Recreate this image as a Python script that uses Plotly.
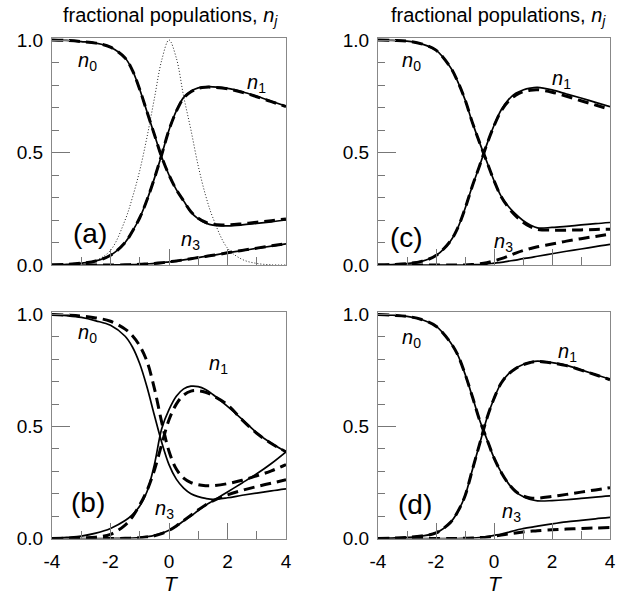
import plotly.graph_objects as go

# ---------------- data ----------------
T = [-4, -3.5, -3, -2.5, -2, -1.5, -1.25, -1, -0.75, -0.5, -0.25, 0, 0.25, 0.5, 0.75, 1, 1.25, 1.5, 2, 2.5, 3, 3.5, 4]

# panel (a)
a_n0_solid = [1.0, 0.998, 0.993, 0.986, 0.968, 0.92, 0.865, 0.78, 0.68, 0.58, 0.48, 0.4, 0.335, 0.285, 0.235, 0.205, 0.187, 0.177, 0.174, 0.178, 0.185, 0.192, 0.2]
a_n0_dash = [1.0, 0.998, 0.993, 0.986, 0.968, 0.92, 0.865, 0.78, 0.68, 0.58, 0.48, 0.4, 0.335, 0.285, 0.237, 0.208, 0.19, 0.18, 0.178, 0.183, 0.19, 0.197, 0.205]
a_n1_solid = [0.0, 0.003, 0.008, 0.018, 0.043, 0.1, 0.15, 0.21, 0.29, 0.385, 0.49, 0.6, 0.685, 0.745, 0.772, 0.787, 0.792, 0.792, 0.785, 0.77, 0.75, 0.728, 0.706]
a_n1_dash = [0.0, 0.003, 0.008, 0.018, 0.043, 0.1, 0.15, 0.21, 0.29, 0.385, 0.49, 0.6, 0.683, 0.742, 0.77, 0.785, 0.79, 0.79, 0.783, 0.768, 0.748, 0.726, 0.704]
a_n3_solid = [0, 0, 0, 0, 0, 0.001, 0.002, 0.003, 0.005, 0.007, 0.01, 0.014, 0.018, 0.023, 0.028, 0.033, 0.038, 0.043, 0.054, 0.064, 0.074, 0.084, 0.094]
a_n3_dash = [0, 0, 0, 0, 0, 0.001, 0.002, 0.003, 0.005, 0.007, 0.01, 0.014, 0.018, 0.023, 0.028, 0.033, 0.038, 0.043, 0.054, 0.065, 0.075, 0.085, 0.095]
a_dotted = [0, 0.001, 0.006, 0.02, 0.065, 0.2, 0.3, 0.42, 0.57, 0.74, 0.91, 1.0, 0.92, 0.75, 0.6, 0.44, 0.31, 0.21, 0.075, 0.025, 0.007, 0.001, 0]

# panel (b)
b_n0_solid = [1.0, 0.995, 0.987, 0.972, 0.952, 0.903, 0.855, 0.78, 0.675, 0.55, 0.43, 0.33, 0.265, 0.225, 0.2, 0.187, 0.179, 0.175, 0.182, 0.193, 0.203, 0.213, 0.222]
b_n0_dash = [1.0, 0.997, 0.993, 0.985, 0.97, 0.935, 0.905, 0.86, 0.79, 0.67, 0.52, 0.39, 0.31, 0.27, 0.25, 0.24, 0.236, 0.236, 0.245, 0.26, 0.28, 0.302, 0.33]
b_n1_solid = [0.0, 0.005, 0.011, 0.024, 0.045, 0.08, 0.107, 0.145, 0.21, 0.33, 0.49, 0.575, 0.635, 0.668, 0.68, 0.678, 0.665, 0.643, 0.59, 0.532, 0.472, 0.425, 0.387]
b_n1_dash = [0.0, 0.001, 0.003, 0.006, 0.018, 0.06, 0.097, 0.15, 0.215, 0.305, 0.42, 0.53, 0.6, 0.64, 0.658, 0.66, 0.653, 0.638, 0.597, 0.53, 0.47, 0.424, 0.387]
b_n3_solid = [0, 0, 0, 0, 0, 0.001, 0.002, 0.004, 0.008, 0.014, 0.024, 0.037, 0.055, 0.078, 0.1, 0.125, 0.148, 0.168, 0.208, 0.248, 0.289, 0.335, 0.387]
b_n3_dash = [0, 0, 0, 0, 0, 0.001, 0.002, 0.003, 0.007, 0.012, 0.022, 0.036, 0.056, 0.08, 0.104, 0.128, 0.15, 0.168, 0.195, 0.215, 0.232, 0.247, 0.262]

# panel (c)
c_n0_solid = [1.0, 0.998, 0.995, 0.983, 0.955, 0.878, 0.815, 0.735, 0.635, 0.545, 0.46, 0.375, 0.305, 0.26, 0.226, 0.198, 0.178, 0.165, 0.167, 0.172, 0.178, 0.184, 0.189]
c_n0_dash = [1.0, 0.998, 0.995, 0.983, 0.955, 0.878, 0.815, 0.735, 0.635, 0.545, 0.46, 0.375, 0.303, 0.255, 0.218, 0.19, 0.17, 0.158, 0.155, 0.155, 0.156, 0.158, 0.159]
c_n1_solid = [0.0, 0.002, 0.006, 0.016, 0.042, 0.107, 0.165, 0.25, 0.35, 0.44, 0.535, 0.62, 0.69, 0.735, 0.763, 0.778, 0.786, 0.789, 0.778, 0.76, 0.742, 0.723, 0.704]
c_n1_dash = [0.0, 0.002, 0.006, 0.016, 0.042, 0.107, 0.165, 0.25, 0.35, 0.44, 0.535, 0.618, 0.685, 0.728, 0.755, 0.77, 0.777, 0.779, 0.768, 0.75, 0.73, 0.711, 0.692]
c_n3_solid = [0, 0, 0, 0, 0, 0, 0, 0, 0.001, 0.002, 0.004, 0.008, 0.012, 0.017, 0.022, 0.028, 0.033, 0.039, 0.05, 0.061, 0.071, 0.082, 0.092]
c_n3_dash = [0, 0, 0, 0, 0, 0, 0, 0, 0.002, 0.005, 0.01, 0.018, 0.028, 0.04, 0.053, 0.064, 0.073, 0.081, 0.093, 0.106, 0.117, 0.127, 0.137]

# panel (d)
d_n0_solid = [1.0, 0.997, 0.992, 0.978, 0.948, 0.875, 0.82, 0.735, 0.635, 0.53, 0.445, 0.36, 0.295, 0.245, 0.208, 0.187, 0.174, 0.168, 0.169, 0.173, 0.179, 0.185, 0.19]
d_n0_dash = [1.0, 0.997, 0.992, 0.978, 0.948, 0.875, 0.82, 0.735, 0.635, 0.53, 0.445, 0.36, 0.295, 0.245, 0.21, 0.19, 0.181, 0.18, 0.188, 0.197, 0.207, 0.217, 0.227]
d_n1_solid = [0.0, 0.002, 0.005, 0.011, 0.025, 0.072, 0.12, 0.19, 0.305, 0.42, 0.535, 0.625, 0.695, 0.735, 0.76, 0.777, 0.787, 0.792, 0.785, 0.773, 0.753, 0.732, 0.71]
d_n1_dash = [0.0, 0.002, 0.005, 0.011, 0.025, 0.072, 0.12, 0.19, 0.305, 0.42, 0.535, 0.625, 0.694, 0.734, 0.759, 0.776, 0.786, 0.791, 0.784, 0.772, 0.752, 0.731, 0.709]
d_n3_solid = [0, 0, 0, 0, 0, 0, 0, 0.001, 0.002, 0.004, 0.008, 0.014, 0.02, 0.028, 0.037, 0.044, 0.05, 0.055, 0.065, 0.074, 0.081, 0.088, 0.094]
d_n3_dash = [0, 0, 0, 0, 0, 0, 0, 0.001, 0.002, 0.004, 0.006, 0.01, 0.015, 0.02, 0.025, 0.029, 0.032, 0.035, 0.039, 0.042, 0.045, 0.047, 0.049]

x_ticks = [-4, -2, 0, 2, 4]
x_ticktext = ["-4", "-2", "0", "2", "4"]
y_ticks = [0, 0.5, 1.0]
y_ticktext = ["0.0", "0.5", "1.0"]
title_text = "fractional populations, <i>n<sub>j</sub></i>"

# ---------------- figure ----------------
FONT = "Liberation Sans, Arial, sans-serif"
fig = go.Figure()

panels = [
    ("a", "x", "y", [a_n0_solid, a_n1_solid, a_n3_solid], [a_n0_dash, a_n1_dash, a_n3_dash]),
    ("c", "x2", "y2", [c_n0_solid, c_n1_solid, c_n3_solid], [c_n0_dash, c_n1_dash, c_n3_dash]),
    ("b", "x3", "y3", [b_n0_solid, b_n1_solid, b_n3_solid], [b_n0_dash, b_n1_dash, b_n3_dash]),
    ("d", "x4", "y4", [d_n0_solid, d_n1_solid, d_n3_solid], [d_n0_dash, d_n1_dash, d_n3_dash]),
]

for name, xa, ya, solids, dashes in panels:
    if name == "a":
        fig.add_trace(go.Scatter(x=T, y=a_dotted, mode="lines", xaxis=xa, yaxis=ya,
                                 line=dict(color="#222", width=1, dash="1px,2px", shape="spline"),
                                 showlegend=False, hoverinfo="skip"))
    for s in dashes:
        fig.add_trace(go.Scatter(x=T, y=s, mode="lines", xaxis=xa, yaxis=ya,
                                 line=dict(color="black", width=3, dash="11px,6px", shape="spline"),
                                 showlegend=False, hoverinfo="skip"))
    for s in solids:
        fig.add_trace(go.Scatter(x=T, y=s, mode="lines", xaxis=xa, yaxis=ya,
                                 line=dict(color="black", width=1.7, shape="spline"),
                                 showlegend=False, hoverinfo="skip"))

W, H = 620, 597
xl = [52 / W, 286 / W]
xr = [378 / W, 610 / W]
yt = [(H - 265) / H, (H - 37.75) / H]
yb = [(H - 538.5) / H, (H - 312.3) / H]

def xaxis(domain, anchor, labels):
    return dict(domain=domain, anchor=anchor, range=[-4, 4], showgrid=False, zeroline=False,
                showline=True, linecolor="#888", linewidth=1, mirror=True,
                tickmode="array", tickvals=x_ticks, ticktext=x_ticktext,
                ticks="inside", ticklen=16, tickcolor="#777", tickwidth=1,
                minor=dict(ticks="inside", ticklen=8, dtick=1, tick0=0, tickcolor="#777", showgrid=False),
                showticklabels=labels, ticklabelstandoff=6, automargin=False,
                tickfont=dict(family=FONT, size=19, color="black"))

def yaxis(domain, anchor):
    return dict(domain=domain, anchor=anchor, range=[0, 1.01], showgrid=False, zeroline=False,
                showline=True, linecolor="#888", linewidth=1, mirror=True,
                tickmode="array", tickvals=y_ticks, ticktext=y_ticktext,
                ticks="inside", ticklen=18, tickcolor="#777", tickwidth=1,
                minor=dict(ticks="inside", ticklen=7, dtick=0.1, tick0=0, tickcolor="#777", showgrid=False),
                ticklabelstandoff=4, automargin=False,
                tickfont=dict(family=FONT, size=19, color="black"))

fig.update_layout(
    width=W, height=H, margin=dict(l=0, r=0, t=0, b=0, pad=0), autosize=False,
    paper_bgcolor="white", plot_bgcolor="white",
    font=dict(family=FONT, color="black"),
    xaxis=xaxis(xl, "y", False), yaxis=yaxis(yt, "x"),
    xaxis2=xaxis(xr, "y2", False), yaxis2=yaxis(yt, "x2"),
    xaxis3=xaxis(xl, "y3", True), yaxis3=yaxis(yb, "x3"),
    xaxis4=xaxis(xr, "y4", True), yaxis4=yaxis(yb, "x4"),
)

ann = []
def lab(text, x, y, xa, ya, size=20):
    ann.append(dict(text=text, x=x, y=y, xref=xa, yref=ya, showarrow=False,
                    font=dict(family=FONT, size=size, color="black"), xanchor="center", yanchor="middle"))

nl = lambda k: "<i>n</i><sub>%s</sub>" % k
# (a)
lab(nl(0), -2.8, 0.905, "x", "y"); lab(nl(1), 3.0, 0.805, "x", "y"); lab(nl(3), 0.75, 0.11, "x", "y")
lab("(a)", -2.7, 0.14, "x", "y", 28)
# (c)
lab(nl(0), -2.86, 0.905, "x2", "y2"); lab(nl(1), 2.34, 0.825, "x2", "y2"); lab(nl(3), 0.34, 0.1, "x2", "y2")
lab("(c)", -3.03, 0.12, "x2", "y2", 28)
# (b)
lab(nl(0), -2.77, 0.915, "x3", "y3"); lab(nl(1), 1.68, 0.775, "x3", "y3"); lab(nl(3), -0.14, 0.13, "x3", "y3")
lab("(b)", -2.77, 0.16, "x3", "y3", 28)
# (d)
lab(nl(0), -2.83, 0.895, "x4", "y4"); lab(nl(1), 2.52, 0.83, "x4", "y4"); lab(nl(3), 0.62, 0.115, "x4", "y4")
lab("(d)", -2.72, 0.15, "x4", "y4", 28)

# titles
for cx in (170, 498):
    ann.append(dict(text=title_text, x=cx / W, y=(H - 17) / H, xref="paper", yref="paper", showarrow=False,
                    font=dict(family=FONT, size=20, color="black"), xanchor="center", yanchor="middle"))
# axis titles T
for cx in (171, 495):
    ann.append(dict(text="<i>T</i>", x=cx / W, y=(H - 583) / H, xref="paper", yref="paper", showarrow=False,
                    font=dict(family=FONT, size=21, color="black"), xanchor="center", yanchor="middle"))

fig.update_layout(annotations=ann)
fig.write_html("out.html", post_script="document.body.style.margin='0';document.body.style.overflow='hidden';")
